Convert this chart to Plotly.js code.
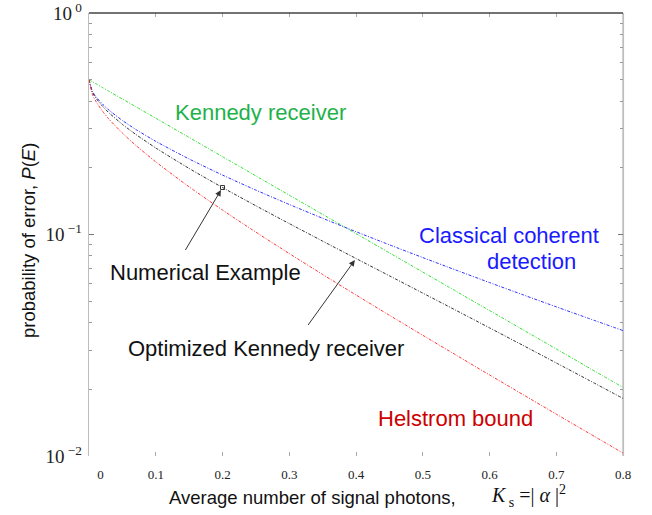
<!DOCTYPE html>
<html>
<head>
<meta charset="utf-8">
<script src="https://cdn.plot.ly/plotly-3.0.1.min.js"></script>
<style>
  html, body { margin: 0; padding: 0; background: #fff; }
  #chart { width: 652px; height: 515px; }
</style>
</head>
<body>
<div id="chart"></div>
<script>
// Average number of signal photons K_s = |alpha|^2
const photons = [0, 0.005, 0.01, 0.02, 0.03, 0.05, 0.07, 0.1, 0.15, 0.2, 0.25, 0.3, 0.35, 0.4, 0.45, 0.5, 0.55, 0.6, 0.65, 0.7, 0.75, 0.8];

// Probability of error for each receiver
const helstromBound = [0.5, 0.42964, 0.40099, 0.36136, 0.33186, 0.28712, 0.25291, 0.21291, 0.16415, 0.12896, 0.10247, 0.08203, 0.06601, 0.05332, 0.04319, 0.03506, 0.02852, 0.02322, 0.01893, 0.01544, 0.01261, 0.01030];
const kennedyReceiver = [0.5, 0.49010, 0.48039, 0.46156, 0.44346, 0.40937, 0.37789, 0.33516, 0.27441, 0.22466, 0.18394, 0.15060, 0.12330, 0.10095, 0.08265, 0.06767, 0.05540, 0.04536, 0.03714, 0.03041, 0.02489, 0.02038];
const classicalCoherent = [0.5, 0.44377, 0.42074, 0.38865, 0.36452, 0.32736, 0.29835, 0.26354, 0.21929, 0.18555, 0.15866, 0.13668, 0.11836, 0.10295, 0.08986, 0.07865, 0.06901, 0.06067, 0.05344, 0.04713, 0.04164, 0.03682];
const optimizedKennedy = [0.5, 0.43957, 0.41479, 0.38030, 0.35436, 0.31444, 0.28331, 0.24601, 0.19878, 0.16302, 0.13481, 0.11203, 0.09336, 0.07791, 0.06509, 0.05437, 0.04540, 0.03788, 0.03158, 0.02630, 0.02188, 0.01818];

// Single numerical example on the optimized Kennedy curve
const exampleX = [0.2];
const exampleY = [0.163];

// Axis ticks
const xTickVals = [0, 0.1, 0.2, 0.3, 0.4, 0.5, 0.6, 0.7, 0.8];
const xTickText = ['\u00a0\u00a0\u00a0\u00a0\u00a0\u00a0\u00a00', '0.1', '0.2', '0.3', '0.4', '0.5', '0.6', '0.7', '0.8'];
const yTickVals = [0.01, 0.1, 1];
const yTickText = ['10<sup> \u22122</sup>', '10<sup> \u22121</sup>', '10<sup> 0</sup>'];

// Plot-area geometry (pixels)
const W = 652, H = 515;
const M = { l: 89, r: 29, t: 13, b: 59 };
const plotW = W - M.l - M.r, plotH = H - M.t - M.b;
const px = x => (x - M.l) / plotW;
const py = y => (H - M.b - y) / plotH;

// minor log ticks 2..9 per decade
const minorVals = [];
[0.01, 0.1].forEach(d => { for (let k = 2; k <= 9; k++) minorVals.push(d * k); });

const SANS = 'Liberation Sans, Arial, sans-serif';
const SERIF = 'Liberation Serif, Times New Roman, serif';
const dashPattern = '3px,1.5px,1px,1.5px';

function curve(y, color) {
  return {
    x: photons, y: y, type: 'scatter', mode: 'lines',
    line: { color: color, width: 1, dash: dashPattern, shape: 'spline', smoothing: 0.6 },
    hoverinfo: 'skip', showlegend: false, cliponaxis: false
  };
}

const data = [
  curve(kennedyReceiver, '#33e033'),
  curve(classicalCoherent, '#3030ff'),
  curve(optimizedKennedy, '#333333'),
  curve(helstromBound, '#ff3535'),
  {
    x: exampleX, y: exampleY, type: 'scatter', mode: 'markers',
    marker: { symbol: 'square-open', size: 4, color: '#333', line: { width: 1, color: '#333' } },
    hoverinfo: 'skip', showlegend: false
  }
];

function label(text, x, y, color, size) {
  return {
    text: text, xref: 'paper', yref: 'paper', x: px(x), y: py(y),
    xanchor: 'center', yanchor: 'middle', showarrow: false,
    font: { family: SANS, size: size || 22, color: color }
  };
}

const annotations = [
  label('Kennedy receiver', 260, 112, '#1fb24c'),
  label('Classical coherent', 509, 235, '#1a1aff'),
  label('detection', 531, 261, '#1a1aff'),
  label('Numerical Example', 205, 272, '#111'),
  label('Optimized Kennedy receiver', 266, 348, '#111'),
  label('Helstrom bound', 455, 418, '#cc0000'),
  // arrows
  {
    x: exampleX[0], y: Math.log10(exampleY[0]), xref: 'x', yref: 'y', text: '',
    showarrow: true, ax: -38, ay: 64, arrowhead: 2, arrowsize: 1.2, arrowwidth: 1,
    arrowcolor: '#333', standoff: 3
  },
  {
    x: photons[13], y: Math.log10(optimizedKennedy[13]), xref: 'x', yref: 'y', text: '',
    showarrow: true, ax: -49, ay: 68, arrowhead: 2, arrowsize: 1.2, arrowwidth: 1,
    arrowcolor: '#333', standoff: 2
  },
  // axis titles
  {
    text: 'probability of error, <i>P</i>(<i>E</i>)', xref: 'paper', yref: 'paper',
    x: px(28), y: py(241), textangle: -90, xanchor: 'center', yanchor: 'middle',
    showarrow: false, font: { family: SANS, size: 18.5, color: '#111' }
  },
  {
    text: 'Average number of signal photons,', xref: 'paper', yref: 'paper',
    x: px(167), y: py(497), xanchor: 'left', yanchor: 'middle',
    showarrow: false, font: { family: SANS, size: 18.5, color: '#111' }
  },
  {
    text: '<i>K</i><sub> s</sub> =| <i>\u03b1</i> |<sup>2</sup>', xref: 'paper', yref: 'paper',
    x: px(489), y: py(496), xanchor: 'left', yanchor: 'middle',
    showarrow: false, font: { family: SERIF, size: 20, color: '#111' }
  }
];

const shapes = [
  // dark top edge and a wider light right edge over the axis lines
  { type: 'line', xref: 'paper', yref: 'paper', x0: 0, x1: 1, y0: 1, y1: 1, line: { color: '#444', width: 1.5 } },
  { type: 'line', xref: 'paper', yref: 'paper', x0: 1, x1: 1, y0: 0, y1: 1, line: { color: '#d2d2d2', width: 2.2 }, layer: 'below' }
];

const layout = {
  width: W, height: H,
  margin: M,
  paper_bgcolor: '#fff', plot_bgcolor: '#fff',
  showlegend: false,
  xaxis: {
    range: [0, 0.8], showgrid: false, zeroline: false,
    showline: true, linecolor: 'rgba(255,255,255,0)', linewidth: 1,
    tickmode: 'array', tickvals: xTickVals, ticktext: xTickText,
    ticks: 'inside', ticklen: 4, tickwidth: 1, tickcolor: '#aaa', mirror: 'ticks',
    ticklabelstandoff: 6,
    tickfont: { family: SERIF, size: 13, color: '#222' }
  },
  yaxis: {
    type: 'log', range: [-2.0005, 0.0005], showgrid: false, zeroline: false,
    showline: true, linecolor: '#bdbdbd', linewidth: 1.3,
    tickmode: 'array', tickvals: yTickVals, ticktext: yTickText,
    ticks: 'inside', ticklen: 5, tickwidth: 1, tickcolor: '#777', mirror: 'ticks',
    ticklabelstandoff: 2, ticklabeloverflow: 'allow',
    tickfont: { family: SERIF, size: 19, color: '#222' },
    minor: { tickmode: 'array', tickvals: minorVals, ticks: 'inside', ticklen: 3, tickcolor: '#999', showgrid: false }
  },
  annotations: annotations,
  shapes: shapes
};

Plotly.newPlot('chart', data, layout, { staticPlot: true, displayModeBar: false });
</script>
</body>
</html>
